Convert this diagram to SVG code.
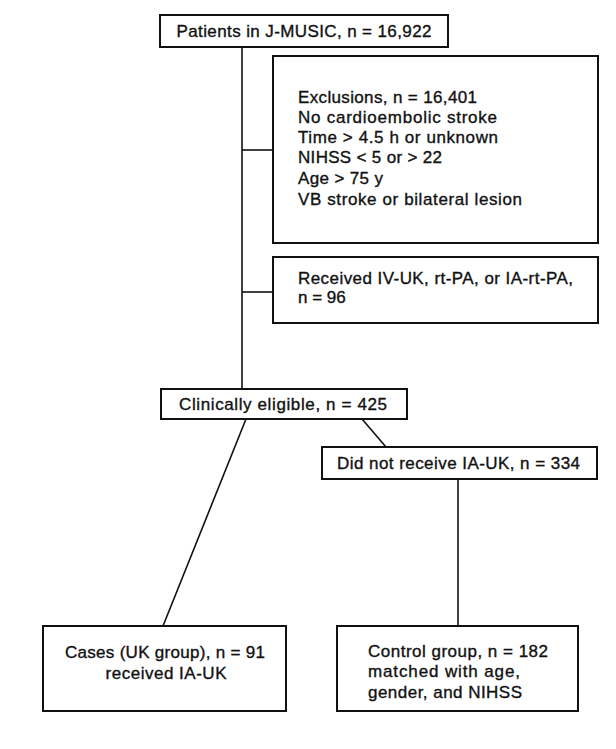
<svg xmlns="http://www.w3.org/2000/svg" width="616" height="749" viewBox="0 0 616 749">
<style>
.box{fill:#fff;stroke:#111;stroke-width:2}
.t{font-family:"Liberation Sans",Arial,sans-serif;font-size:17px;fill:#111;stroke:#111;stroke-width:0.35}
.c{text-anchor:middle}
.ln{stroke:#111;stroke-width:1.6;fill:none}
</style>
<rect width="616" height="749" fill="#fff"/>
<g id="connectors">
<line class="ln" x1="242" y1="47" x2="242" y2="389"/>
<line class="ln" x1="242" y1="150" x2="273" y2="150"/>
<line class="ln" x1="242" y1="292" x2="273" y2="292"/>
<line class="ln" x1="246" y1="419" x2="163" y2="626"/>
<line class="ln" x1="362" y1="419" x2="386" y2="447"/>
<line class="ln" x1="458" y1="479" x2="458" y2="626"/>
</g>
<g id="patients">
<rect class="box" x="160" y="15" width="288" height="32"/>
<text class="t c" x="304" y="37" textLength="255">Patients in J-MUSIC, n = 16,922</text>
</g>
<g id="exclusions">
<rect class="box" x="273" y="56" width="325" height="187"/>
<text class="t" x="298" y="103" textLength="179">Exclusions, n = 16,401</text>
<text class="t" x="298" y="123" textLength="199">No cardioembolic stroke</text>
<text class="t" x="298" y="143" textLength="200">Time &gt; 4.5 h or unknown</text>
<text class="t" x="298" y="163" textLength="144">NIHSS &lt; 5 or &gt; 22</text>
<text class="t" x="298" y="184" textLength="85">Age &gt; 75 y</text>
<text class="t" x="298" y="205" textLength="224">VB stroke or bilateral lesion</text>
</g>
<g id="received">
<rect class="box" x="273" y="257" width="325" height="66"/>
<text class="t" x="298" y="284" textLength="275">Received IV-UK, rt-PA, or IA-rt-PA,</text>
<text class="t" x="298" y="303">n = 96</text>
</g>
<g id="eligible">
<rect class="box" x="161" y="389" width="246" height="30"/>
<text class="t" x="179" y="410" textLength="208">Clinically eligible, n = 425</text>
</g>
<g id="notreceive">
<rect class="box" x="322" y="447" width="275" height="32"/>
<text class="t" x="337" y="469" textLength="243">Did not receive IA-UK, n = 334</text>
</g>
<g id="cases">
<rect class="box" x="43" y="626" width="243" height="85"/>
<text class="t c" x="165" y="658" textLength="200">Cases (UK group), n = 91</text>
<text class="t c" x="166" y="679" textLength="121">received IA-UK</text>
</g>
<g id="control">
<rect class="box" x="337" y="626" width="241" height="85"/>
<text class="t" x="368" y="657" textLength="180">Control group, n = 182</text>
<text class="t" x="368" y="677" textLength="152">matched with age,</text>
<text class="t" x="368" y="698" textLength="154">gender, and NIHSS</text>
</g>
</svg>
